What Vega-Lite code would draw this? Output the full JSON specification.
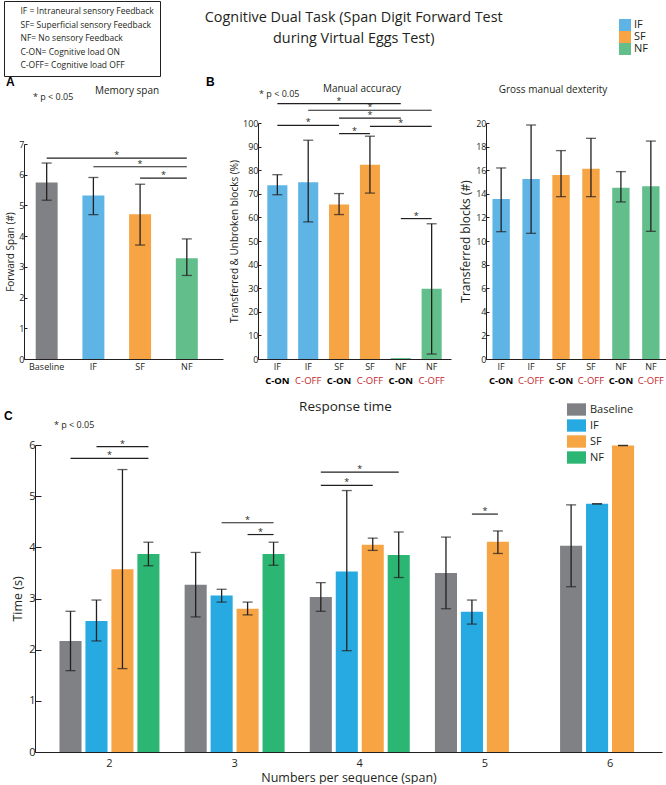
{
  "$schema": "https://vega.github.io/schema/vega-lite/v6.json",
  "background": "white",
  "padding": {"left": 3, "top": 0, "right": 0, "bottom": 0},
  "autosize": {"type": "pad"},
  "title": {"text": ["Cognitive Dual Task (Span Digit Forward Test", "during Virtual Eggs Test)"], "fontSize": 14.4, "fontWeight": "normal", "font": "Open Sans", "color": "#231f20", "lineHeight": 21, "anchor": "middle", "offset": -45.5, "dx": 19},
  "config": {
    "font": "Open Sans",
    "view": {"stroke": null},
    "axis": {"grid": false, "domainColor": "#231f20", "tickColor": "#231f20", "labelColor": "#231f20", "titleColor": "#231f20", "labelFont": "Open Sans", "titleFont": "Open Sans", "titleFontWeight": "normal", "labelFontSize": 9, "titleFontSize": 10, "domainWidth": 1, "labelOverlap": false},
    "title": {"font": "Open Sans", "fontWeight": "normal", "color": "#231f20"},
    "legend": {"labelFont": "Open Sans", "labelColor": "#231f20"}
  },
  "datasets": {
    "memory": [
      {"grp": "Baseline", "mean": 5.75, "lo": 5.17, "hi": 6.38},
      {"grp": "IF", "mean": 5.32, "lo": 4.70, "hi": 5.91},
      {"grp": "SF", "mean": 4.71, "lo": 3.71, "hi": 5.69},
      {"grp": "NF", "mean": 3.28, "lo": 2.72, "hi": 3.91}
    ],
    "memorySig": [
      {"from": "Baseline", "to": "NF", "level": 6.54, "at": "IF", "pos": "after"},
      {"from": "IF", "to": "NF", "level": 6.26, "at": "SF", "pos": "on"},
      {"from": "SF", "to": "NF", "level": 5.89, "at": "SF", "pos": "after"}
    ],
    "accuracy": [
      {"cond": "IF C-ON", "fb": "IF", "mean": 73.6, "lo": 69.6, "hi": 78.1},
      {"cond": "IF C-OFF", "fb": "IF", "mean": 74.9, "lo": 58.1, "hi": 92.7},
      {"cond": "SF C-ON", "fb": "SF", "mean": 65.5, "lo": 61.2, "hi": 70.1},
      {"cond": "SF C-OFF", "fb": "SF", "mean": 82.3, "lo": 70.3, "hi": 94.4},
      {"cond": "NF C-ON", "fb": "NF", "mean": 0.4, "lo": null, "hi": null},
      {"cond": "NF C-OFF", "fb": "NF", "mean": 29.8, "lo": 2.1, "hi": 57.3}
    ],
    "accSig": [
      {"from": "IF C-ON", "to": "NF C-ON", "level": 108.2, "at": "SF C-ON", "pos": "on"},
      {"from": "IF C-OFF", "to": "NF C-OFF", "level": 105.4, "at": "SF C-OFF", "pos": "on"},
      {"from": "SF C-ON", "to": "NF C-ON", "level": 102.1, "at": "SF C-OFF", "pos": "on"},
      {"from": "IF C-ON", "to": "SF C-ON", "level": 99.0, "at": "IF C-OFF", "pos": "on"},
      {"from": "SF C-OFF", "to": "NF C-OFF", "level": 98.6, "at": "NF C-ON", "pos": "on"},
      {"from": "SF C-ON", "to": "SF C-OFF", "level": 95.5, "at": "SF C-ON", "pos": "after"},
      {"from": "NF C-ON", "to": "NF C-OFF", "level": 59.5, "at": "NF C-ON", "pos": "after"}
    ],
    "dexterity": [
      {"cond": "IF C-ON", "fb": "IF", "mean": 13.56, "lo": 10.79, "hi": 16.19},
      {"cond": "IF C-OFF", "fb": "IF", "mean": 15.25, "lo": 10.65, "hi": 19.83},
      {"cond": "SF C-ON", "fb": "SF", "mean": 15.59, "lo": 13.76, "hi": 17.66},
      {"cond": "SF C-OFF", "fb": "SF", "mean": 16.13, "lo": 13.76, "hi": 18.70},
      {"cond": "NF C-ON", "fb": "NF", "mean": 14.52, "lo": 13.31, "hi": 15.88},
      {"cond": "NF C-OFF", "fb": "NF", "mean": 14.63, "lo": 10.82, "hi": 18.47}
    ],
    "response": [
      {"span": "2", "grp": "Baseline", "mean": 2.17, "lo": 1.59, "hi": 2.75},
      {"span": "2", "grp": "IF", "mean": 2.56, "lo": 2.17, "hi": 2.97},
      {"span": "2", "grp": "SF", "mean": 3.57, "lo": 1.63, "hi": 5.52},
      {"span": "2", "grp": "NF", "mean": 3.87, "lo": 3.64, "hi": 4.10},
      {"span": "3", "grp": "Baseline", "mean": 3.27, "lo": 2.64, "hi": 3.90},
      {"span": "3", "grp": "IF", "mean": 3.06, "lo": 2.93, "hi": 3.18},
      {"span": "3", "grp": "SF", "mean": 2.80, "lo": 2.68, "hi": 2.93},
      {"span": "3", "grp": "NF", "mean": 3.87, "lo": 3.65, "hi": 4.10},
      {"span": "4", "grp": "Baseline", "mean": 3.03, "lo": 2.75, "hi": 3.31},
      {"span": "4", "grp": "IF", "mean": 3.53, "lo": 1.98, "hi": 5.11},
      {"span": "4", "grp": "SF", "mean": 4.05, "lo": 3.94, "hi": 4.18},
      {"span": "4", "grp": "NF", "mean": 3.85, "lo": 3.41, "hi": 4.30},
      {"span": "5", "grp": "Baseline", "mean": 3.50, "lo": 2.80, "hi": 4.20},
      {"span": "5", "grp": "IF", "mean": 2.74, "lo": 2.50, "hi": 2.97},
      {"span": "5", "grp": "SF", "mean": 4.11, "lo": 3.88, "hi": 4.32},
      {"span": "6", "grp": "Baseline", "mean": 4.03, "lo": 3.23, "hi": 4.83},
      {"span": "6", "grp": "IF", "mean": 4.85, "lo": 4.85, "hi": 4.85},
      {"span": "6", "grp": "SF", "mean": 5.99, "lo": 5.99, "hi": 5.99}
    ],
    "respSig": [
      {"span": "2", "from": "Baseline", "to": "NF", "level": 5.74, "at": "IF", "pos": "after"},
      {"span": "2", "from": "IF", "to": "NF", "level": 5.97, "at": "SF", "pos": "on"},
      {"span": "3", "from": "IF", "to": "NF", "level": 4.48, "at": "SF", "pos": "on"},
      {"span": "3", "from": "SF", "to": "NF", "level": 4.25, "at": "SF", "pos": "after"},
      {"span": "4", "from": "Baseline", "to": "NF", "level": 5.47, "at": "IF", "pos": "after"},
      {"span": "4", "from": "Baseline", "to": "SF", "level": 5.21, "at": "IF", "pos": "on"},
      {"span": "5", "from": "IF", "to": "SF", "level": 4.65, "at": "IF", "pos": "after"}
    ],
    "labels": [
      {"panel": "A", "kind": "letter", "t": "A"},
      {"panel": "A", "kind": "note", "t": "* p < 0.05"},
      {"panel": "B", "kind": "letter", "t": "B"},
      {"panel": "B", "kind": "note", "t": "* p < 0.05"},
      {"panel": "C", "kind": "letter", "t": "C"},
      {"panel": "C", "kind": "note", "t": "* p < 0.05"}
    ],
    "abbr": [
      {"abbr": "IF = Intraneural sensory Feedback"},
      {"abbr": "SF= Superficial sensory Feedback"},
      {"abbr": "NF= No sensory Feedback"},
      {"abbr": "C-ON= Cognitive load ON"},
      {"abbr": "C-OFF= Cognitive load OFF"}
    ]
  },
  "bounds": "flush",
  "spacing": 322,
  "resolve": {"scale": {"color": "independent", "shape": "independent"}, "legend": {"color": "independent", "shape": "independent"}},
  "vconcat": [
    {
      "bounds": "flush",
      "spacing": 35,
      "resolve": {"scale": {"color": "independent", "shape": "independent"}, "legend": {"color": "independent", "shape": "independent"}},
      "hconcat": [
        {
          "width": 199, "height": 236,
          "title": {"text": "Memory span", "fontSize": 10, "frame": "group", "dx": 3.5, "offset": -95},
          "data": {"name": "memory"},
          "layer": [
            {"mark": {"type": "bar"},
             "encoding": {
               "x": {"field": "grp", "type": "nominal", "scale": {"domain": ["Baseline", "IF", "SF", "NF"], "paddingInner": 0.53, "paddingOuter": 0.395, "align": 0.317}, "axis": {"title": null, "labelAngle": 0, "ticks": false, "labelPadding": 3}},
               "y": {"field": "mean", "type": "quantitative", "scale": {"domain": [0, 7], "nice": false, "range": [236, 21]}, "axis": {"title": "Forward Span (#)", "tickCount": 7, "tickSize": -3, "labelPadding": 3, "titlePadding": 3, "labelOverlap": false}},
               "color": {"field": "grp", "type": "nominal", "scale": {"domain": ["Baseline", "IF", "SF", "NF"], "range": ["#808184", "#5db4e5", "#f7a444", "#62bf8c"]}, "legend": null}
             }},
            {"mark": {"type": "rule", "color": "#231f20", "strokeWidth": 1.3},
             "encoding": {"x": {"field": "grp", "type": "nominal"}, "y": {"field": "lo", "type": "quantitative"}, "y2": {"field": "hi"}}},
            {"mark": {"type": "tick", "color": "#231f20", "thickness": 1.3, "size": 10},
             "encoding": {"x": {"field": "grp", "type": "nominal"}, "y": {"field": "lo", "type": "quantitative"}}},
            {"mark": {"type": "tick", "color": "#231f20", "thickness": 1.3, "size": 10},
             "encoding": {"x": {"field": "grp", "type": "nominal"}, "y": {"field": "hi", "type": "quantitative"}}},
            {"data": {"name": "memorySig"}, "transform": [{"fold": ["from", "to"], "as": ["end", "bar"]}],
             "mark": {"type": "line", "color": "#231f20", "strokeWidth": 1.2},
             "encoding": {"x": {"field": "bar", "type": "nominal"}, "y": {"field": "level", "type": "quantitative"}, "detail": [{"field": "from"}, {"field": "to"}]}},
            {"data": {"name": "memorySig"}, "transform": [{"filter": "datum.pos === 'on'"}],
             "mark": {"type": "text", "text": "*", "fontSize": 9, "baseline": "alphabetic", "color": "#231f20"},
             "encoding": {"x": {"field": "at", "type": "nominal"}, "y": {"field": "level", "type": "quantitative"}}},
            {"data": {"name": "memorySig"}, "transform": [{"filter": "datum.pos === 'after'"}],
             "mark": {"type": "text", "text": "*", "fontSize": 9, "baseline": "alphabetic", "color": "#231f20"},
             "encoding": {"x": {"field": "at", "type": "nominal", "bandPosition": 1.564}, "y": {"field": "level", "type": "quantitative"}}},
            {"data": {"name": "labels"}, "transform": [{"filter": "datum.panel === 'A' && datum.kind === 'letter'"}],
             "mark": {"type": "text", "align": "left", "baseline": "alphabetic", "font": "Liberation Sans", "fontWeight": "bold", "fontSize": 12, "color": "#000000", "dx": -40.7},
             "encoding": {"x": {"datum": "Baseline"}, "y": {"datum": 8.89}, "text": {"field": "t"}}},
            {"data": {"name": "labels"}, "transform": [{"filter": "datum.panel === 'A' && datum.kind === 'note'"}],
             "mark": {"type": "text", "align": "left", "baseline": "alphabetic", "fontSize": 9, "color": "#231f20", "dx": -13.7},
             "encoding": {"x": {"datum": "Baseline"}, "y": {"datum": 8.43}, "text": {"field": "t"}}},
            {"data": {"name": "abbr"},
             "mark": {"type": "point", "opacity": 0},
             "encoding": {"shape": {"field": "abbr", "type": "nominal", "sort": null, "legend": {"orient": "none", "legendX": -20, "legendY": -122, "title": null, "symbolSize": 0, "symbolOpacity": 0, "symbolStrokeWidth": 0, "labelOffset": 2, "labelFontSize": 8.5, "labelLimit": 300, "rowPadding": 4.5, "padding": 6, "strokeColor": "#231f20", "fillColor": "white", "cornerRadius": 0}}}}
          ]
        },
        {
          "width": 193, "height": 236,
          "title": {"text": "Manual accuracy", "fontSize": 10, "frame": "group", "dx": 7.5, "offset": -18},
          "data": {"name": "accuracy"},
          "resolve": {"axis": {"x": "independent"}},
          "layer": [
            {"mark": {"type": "bar"},
             "encoding": {
               "x": {"field": "cond", "type": "nominal", "scale": {"domain": ["IF C-ON", "IF C-OFF", "SF C-ON", "SF C-OFF", "NF C-ON", "NF C-OFF"], "paddingInner": 0.35, "paddingOuter": 0.302}, "axis": {"orient": "bottom", "title": null, "labelAngle": 0, "ticks": false, "labelPadding": 3, "labelExpr": "split(datum.value, ' ')[0]"}},
               "y": {"field": "mean", "type": "quantitative", "scale": {"domain": [0, 100], "nice": false}, "axis": {"title": "Transferred & Unbroken blocks (%)", "tickCount": 10, "tickSize": -3, "labelPadding": 3, "titlePadding": 3, "labelOverlap": false}},
               "color": {"field": "fb", "type": "nominal", "scale": {"domain": ["IF", "SF", "NF"], "range": ["#5db4e5", "#f7a444", "#62bf8c"]}, "legend": null}
             }},
            {"mark": {"type": "rule", "color": "#231f20", "strokeWidth": 1.3},
             "encoding": {"x": {"field": "cond", "type": "nominal", "axis": {"orient": "bottom", "title": null, "labelAngle": 0, "ticks": false, "domain": false, "labelPadding": 16, "labelFontSize": 9.5, "labelExpr": "split(datum.value, ' ')[1]", "labelColor": {"condition": {"test": "indexof(datum.value, 'OFF') >= 0", "value": "#c1272d"}, "value": "#000000"}, "labelFontWeight": {"condition": {"test": "indexof(datum.value, 'OFF') >= 0", "value": "normal"}, "value": "bold"}}},
                          "y": {"field": "lo", "type": "quantitative"}, "y2": {"field": "hi"}}},
            {"mark": {"type": "tick", "color": "#231f20", "thickness": 1.3, "size": 10},
             "encoding": {"x": {"field": "cond", "type": "nominal", "axis": null}, "y": {"field": "lo", "type": "quantitative"}}},
            {"mark": {"type": "tick", "color": "#231f20", "thickness": 1.3, "size": 10},
             "encoding": {"x": {"field": "cond", "type": "nominal", "axis": null}, "y": {"field": "hi", "type": "quantitative"}}},
            {"data": {"name": "accSig"}, "transform": [{"fold": ["from", "to"], "as": ["end", "bar"]}],
             "mark": {"type": "line", "color": "#231f20", "strokeWidth": 1.2},
             "encoding": {"x": {"field": "bar", "type": "nominal", "axis": null}, "y": {"field": "level", "type": "quantitative"}, "detail": [{"field": "from"}, {"field": "to"}]}},
            {"data": {"name": "accSig"}, "transform": [{"filter": "datum.pos === 'on'"}],
             "mark": {"type": "text", "text": "*", "fontSize": 9, "baseline": "alphabetic", "color": "#231f20"},
             "encoding": {"x": {"field": "at", "type": "nominal", "axis": null}, "y": {"field": "level", "type": "quantitative"}}},
            {"data": {"name": "accSig"}, "transform": [{"filter": "datum.pos === 'after'"}],
             "mark": {"type": "text", "text": "*", "fontSize": 9, "baseline": "alphabetic", "color": "#231f20"},
             "encoding": {"x": {"field": "at", "type": "nominal", "bandPosition": 1.27, "axis": null}, "y": {"field": "level", "type": "quantitative"}}},
            {"data": {"name": "labels"}, "transform": [{"filter": "datum.panel === 'B' && datum.kind === 'letter'"}],
             "mark": {"type": "text", "align": "left", "baseline": "alphabetic", "font": "Liberation Sans", "fontWeight": "bold", "fontSize": 12, "color": "#000000", "dx": -71.3},
             "encoding": {"x": {"datum": "IF C-ON", "axis": null}, "y": {"datum": 115.7}, "text": {"field": "t"}}},
            {"data": {"name": "labels"}, "transform": [{"filter": "datum.panel === 'B' && datum.kind === 'note'"}],
             "mark": {"type": "text", "align": "left", "baseline": "alphabetic", "fontSize": 9, "color": "#231f20", "dx": -18.3},
             "encoding": {"x": {"datum": "IF C-ON", "axis": null}, "y": {"datum": 111.0}, "text": {"field": "t"}}}
          ]
        },
        {
          "width": 180, "height": 236,
          "title": {"text": "Gross manual dexterity", "fontSize": 10, "frame": "group", "dx": -23, "offset": -76},
          "data": {"name": "dexterity"},
          "resolve": {"axis": {"x": "independent"}},
          "layer": [
            {"mark": {"type": "bar"},
             "encoding": {
               "x": {"field": "cond", "type": "nominal", "scale": {"domain": ["IF C-ON", "IF C-OFF", "SF C-ON", "SF C-OFF", "NF C-ON", "NF C-OFF"], "paddingInner": 0.42, "paddingOuter": 0.216}, "axis": {"orient": "bottom", "title": null, "labelAngle": 0, "ticks": false, "labelPadding": 3, "labelExpr": "split(datum.value, ' ')[0]"}},
               "y": {"field": "mean", "type": "quantitative", "scale": {"domain": [0, 20], "nice": false}, "axis": {"title": "Transferred blocks (#)", "titleFontSize": 12, "tickCount": 10, "tickSize": -3, "labelPadding": 3, "titlePadding": 3, "labelOverlap": false}},
               "color": {"field": "fb", "type": "nominal", "scale": {"domain": ["IF", "SF", "NF"], "range": ["#5db4e5", "#f7a444", "#62bf8c"]}, "legend": {"orient": "none", "legendX": 133, "legendY": -104, "title": null, "symbolType": "square", "symbolSize": 144, "symbolStrokeWidth": 0, "labelFontSize": 11, "labelOffset": 3, "rowPadding": 0, "padding": 0}}
             }},
            {"mark": {"type": "rule", "color": "#231f20", "strokeWidth": 1.3},
             "encoding": {"x": {"field": "cond", "type": "nominal", "axis": {"orient": "bottom", "title": null, "labelAngle": 0, "ticks": false, "domain": false, "labelPadding": 16, "labelFontSize": 9.5, "labelExpr": "split(datum.value, ' ')[1]", "labelColor": {"condition": {"test": "indexof(datum.value, 'OFF') >= 0", "value": "#c1272d"}, "value": "#000000"}, "labelFontWeight": {"condition": {"test": "indexof(datum.value, 'OFF') >= 0", "value": "normal"}, "value": "bold"}}},
                          "y": {"field": "lo", "type": "quantitative"}, "y2": {"field": "hi"}}},
            {"mark": {"type": "tick", "color": "#231f20", "thickness": 1.3, "size": 10},
             "encoding": {"x": {"field": "cond", "type": "nominal", "axis": null}, "y": {"field": "lo", "type": "quantitative"}}},
            {"mark": {"type": "tick", "color": "#231f20", "thickness": 1.3, "size": 10},
             "encoding": {"x": {"field": "cond", "type": "nominal", "axis": null}, "y": {"field": "hi", "type": "quantitative"}}}
          ]
        }
      ]
    },
    {
      "width": 638, "height": 307,
      "title": {"text": "Response time", "fontSize": 13.5, "frame": "group", "dx": 2.5, "offset": -13},
      "data": {"name": "response"},
      "layer": [
        {"mark": {"type": "bar"},
         "encoding": {
           "x": {"field": "span", "type": "nominal", "scale": {"domain": ["2", "3", "4", "5", "6"], "range": [11, 638], "paddingInner": 0.17, "paddingOuter": 0.09, "align": 1}, "axis": {"title": "Numbers per sequence (span)", "labelAngle": 0, "ticks": false, "labelFontSize": 11, "titleFontSize": 12.5, "labelPadding": 5, "titlePadding": 3}},
           "xOffset": {"field": "grp", "type": "nominal", "scale": {"domain": ["Baseline", "IF", "SF", "NF"], "paddingInner": 0.15, "paddingOuter": 0.075}},
           "y": {"field": "mean", "type": "quantitative", "scale": {"domain": [0, 6], "nice": false}, "axis": {"title": "Time  (s)", "tickCount": 6, "offset": -11, "tickSize": -6, "labelPadding": 6, "labelFontSize": 11, "titleFontSize": 12.5, "titlePadding": 4, "labelOverlap": false}},
           "color": {"field": "grp", "type": "nominal", "scale": {"domain": ["Baseline", "IF", "SF", "NF"], "range": ["#808184", "#27a9e1", "#f7a444", "#2bb673"]}, "legend": {"orient": "none", "legendX": 543, "legendY": -45, "title": null, "symbolType": "M-1,-0.65H1V0.65H-1Z", "symbolSize": 361, "symbolStrokeWidth": 0, "labelFontSize": 11, "labelOffset": 4, "rowPadding": 0, "padding": 0}}
         }},
        {"mark": {"type": "rule", "color": "#231f20", "strokeWidth": 1.3},
         "encoding": {"x": {"field": "span", "type": "nominal"}, "xOffset": {"field": "grp", "type": "nominal"}, "y": {"field": "lo", "type": "quantitative"}, "y2": {"field": "hi"}}},
        {"mark": {"type": "tick", "color": "#231f20", "thickness": 1.3, "size": 10},
         "encoding": {"x": {"field": "span", "type": "nominal"}, "xOffset": {"field": "grp", "type": "nominal"}, "y": {"field": "lo", "type": "quantitative"}}},
        {"mark": {"type": "tick", "color": "#231f20", "thickness": 1.3, "size": 10},
         "encoding": {"x": {"field": "span", "type": "nominal"}, "xOffset": {"field": "grp", "type": "nominal"}, "y": {"field": "hi", "type": "quantitative"}}},
        {"data": {"name": "respSig"}, "transform": [{"fold": ["from", "to"], "as": ["end", "bar"]}],
         "mark": {"type": "line", "color": "#231f20", "strokeWidth": 1.2},
         "encoding": {"x": {"field": "span", "type": "nominal"}, "xOffset": {"field": "bar", "type": "nominal"}, "y": {"field": "level", "type": "quantitative"}, "detail": [{"field": "span"}, {"field": "from"}, {"field": "to"}]}},
        {"data": {"name": "respSig"}, "transform": [{"filter": "datum.pos === 'on'"}],
         "mark": {"type": "text", "text": "*", "fontSize": 9, "baseline": "alphabetic", "color": "#231f20"},
         "encoding": {"x": {"field": "span", "type": "nominal"}, "xOffset": {"field": "at", "type": "nominal"}, "y": {"field": "level", "type": "quantitative"}}},
        {"data": {"name": "respSig"}, "transform": [{"filter": "datum.pos === 'after'"}],
         "mark": {"type": "text", "text": "*", "fontSize": 9, "baseline": "alphabetic", "color": "#231f20", "dx": 13},
         "encoding": {"x": {"field": "span", "type": "nominal"}, "xOffset": {"field": "at", "type": "nominal"}, "y": {"field": "level", "type": "quantitative"}}},
        {"data": {"name": "labels"}, "transform": [{"filter": "datum.panel === 'C' && datum.kind === 'letter'"}],
         "mark": {"type": "text", "align": "left", "baseline": "alphabetic", "font": "Liberation Sans", "fontWeight": "bold", "fontSize": 12, "color": "#000000", "dx": -105.5},
         "encoding": {"x": {"datum": "2"}, "y": {"datum": 6.49}, "text": {"field": "t"}}},
        {"data": {"name": "labels"}, "transform": [{"filter": "datum.panel === 'C' && datum.kind === 'note'"}],
         "mark": {"type": "text", "align": "left", "baseline": "alphabetic", "fontSize": 9, "color": "#231f20", "dx": -55.5},
         "encoding": {"x": {"datum": "2"}, "y": {"datum": 6.33}, "text": {"field": "t"}}}
      ]
    }
  ]
}
